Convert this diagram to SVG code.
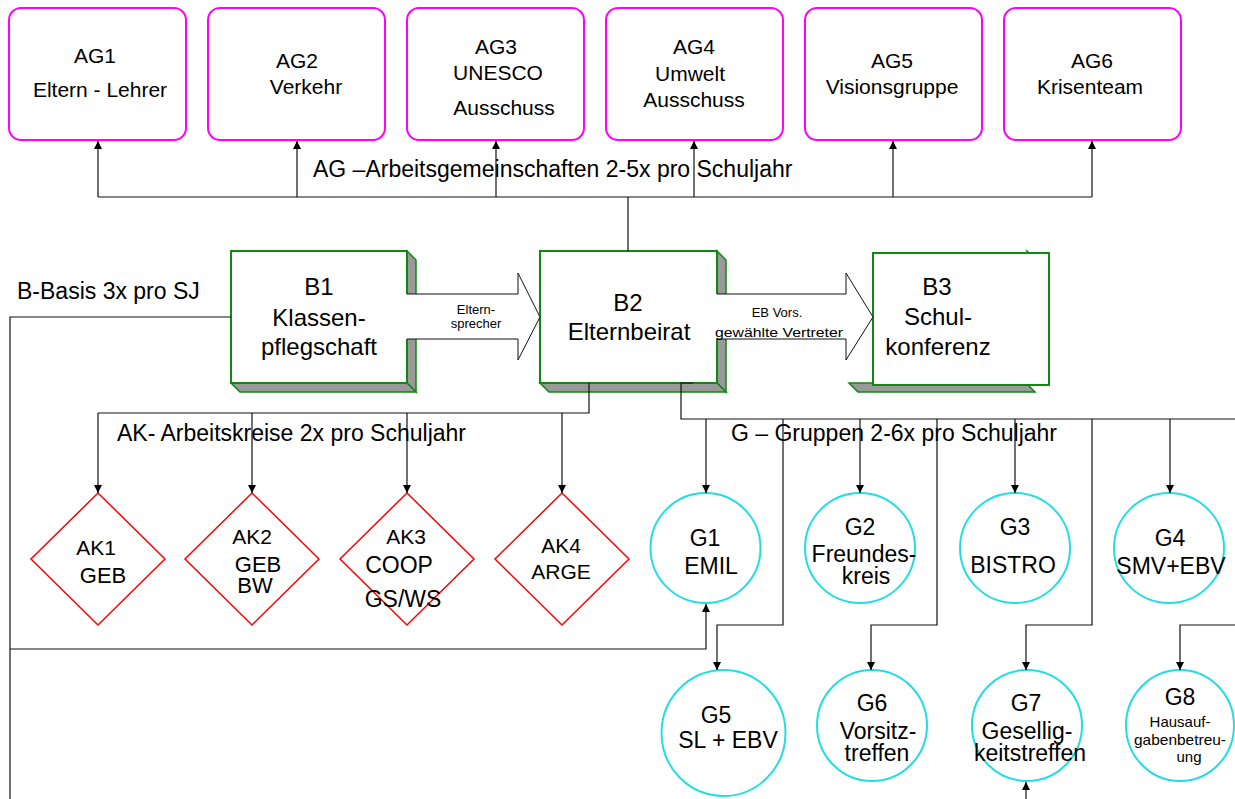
<svg xmlns="http://www.w3.org/2000/svg" width="1235" height="799" viewBox="0 0 1235 799">
<style>
text{font-family:"Liberation Sans",Arial,sans-serif;fill:#000;text-anchor:middle}
.ag{fill:#fff;stroke:#ff00ff;stroke-width:2}
.agt{font-size:21px}
.bf{fill:#fff;stroke:#118811;stroke-width:2}
.bs{fill:#999;stroke:#118811;stroke-width:1.5;stroke-linejoin:miter}
.bt{font-size:24px}
.ak{fill:#fff;stroke:#ff0000;stroke-width:1.5}
.g{fill:#fff;stroke:#22dde4;stroke-width:2}
.gt{font-size:23px}
.lbl{font-size:23px;text-anchor:start}
.c{fill:none;stroke:#111;stroke-width:1.2}
.ba{fill:#fff;stroke:none}
.bal{fill:none;stroke:#111;stroke-width:1}
.sm{font-size:13px}
</style>
<defs>
<marker id="ah" viewBox="0 0 8 8" refX="8" refY="4" markerWidth="8" markerHeight="8" markerUnits="userSpaceOnUse" orient="auto">
<path d="M0,0 L8,4 L0,8 z" fill="#000"/>
</marker>
</defs>
<rect width="1235" height="799" fill="#fff"/>

<g id="AG1"><rect class="ag" x="9" y="8" width="177" height="132" rx="12"/><text class="agt" x="95" y="63">AG1</text><text class="agt" x="100" y="97">Eltern - Lehrer</text></g>
<g id="AG2"><rect class="ag" x="208" y="8" width="177" height="132" rx="12"/><text class="agt" x="297" y="68">AG2</text><text class="agt" x="306" y="94">Verkehr</text></g>
<g id="AG3"><rect class="ag" x="407" y="8" width="177" height="132" rx="12"/><text class="agt" x="496" y="54">AG3</text><text class="agt" x="498" y="80">UNESCO</text><text class="agt" x="504" y="115">Ausschuss</text></g>
<g id="AG4"><rect class="ag" x="606" y="8" width="177" height="132" rx="12"/><text class="agt" x="694" y="54">AG4</text><text class="agt" x="690" y="81">Umwelt</text><text class="agt" x="694" y="107">Ausschuss</text></g>
<g id="AG5"><rect class="ag" x="805" y="8" width="177" height="132" rx="12"/><text class="agt" x="892" y="68">AG5</text><text class="agt" x="892" y="94">Visionsgruppe</text></g>
<g id="AG6"><rect class="ag" x="1004" y="8" width="177" height="132" rx="12"/><text class="agt" x="1092" y="68">AG6</text><text class="agt" x="1090" y="94">Krisenteam</text></g>

<g id="B1">
<polygon class="bs" points="407,251 416,260 416,392 407,383"/>
<polygon class="bs" points="231,383 407,383 416,392 240,392"/>
<rect class="bf" x="231" y="251" width="176" height="132"/>
<text class="bt" x="319" y="295">B1</text><text class="bt" x="319" y="326">Klassen-</text><text class="bt" x="319" y="355">pflegschaft</text>
</g>
<g id="B2">
<polygon class="bs" points="717,251 726,260 726,392 717,383"/>
<polygon class="bs" points="540,383 717,383 726,392 549,392"/>
<rect class="bf" x="540" y="251" width="177" height="132"/>
<text class="bt" x="628" y="311">B2</text><text class="bt" x="629" y="340">Elternbeirat</text>
</g>
<g id="B3">
<polygon class="bs" points="849,383 1026,383 1035,392 858,392"/>
<line x1="1026" y1="250" x2="1032" y2="256" stroke="#118811" stroke-width="1.5"/>
<rect class="bf" x="873" y="253" width="176" height="132"/>
<text class="bt" x="937" y="295">B3</text><text class="bt" x="938" y="325">Schul-</text><text class="bt" x="938" y="355">konferenz</text>
</g>

<g id="AK1"><polygon class="ak" points="98,493 165,559 98,625 31,559"/><text style="font-size:21px" x="96" y="555">AK1</text><text style="font-size:22px" x="103" y="583">GEB</text></g>
<g id="AK2"><polygon class="ak" points="252,493 319,559 252,625 185,559"/><text style="font-size:21px" x="252" y="544">AK2</text><text style="font-size:22px" x="258" y="572">GEB</text><text style="font-size:22px" x="255" y="593">BW</text></g>
<g id="AK3"><polygon class="ak" points="407,493 474,559 407,625 340,559"/><text style="font-size:21px" x="406" y="544">AK3</text><text style="font-size:23px" x="399" y="573">COOP</text><text style="font-size:23px" x="403" y="607">GS/WS</text></g>
<g id="AK4"><polygon class="ak" points="562,493 629,559 562,625 495,559"/><text style="font-size:21px" x="561" y="553">AK4</text><text style="font-size:21px" x="561" y="579">ARGE</text></g>

<g id="G1"><ellipse class="g" cx="705.5" cy="548" rx="55" ry="55"/><text class="gt" x="705" y="546">G1</text><text class="gt" x="711" y="574">EMIL</text></g>
<g id="G2"><ellipse class="g" cx="860" cy="548" rx="55" ry="55"/><text class="gt" x="860" y="535">G2</text><text class="gt" x="864" y="562">Freundes-</text><text class="gt" x="866" y="584">kreis</text></g>
<g id="G3"><ellipse class="g" cx="1015" cy="548" rx="55" ry="55"/><text class="gt" x="1015" y="535">G3</text><text class="gt" x="1013" y="573">BISTRO</text></g>
<g id="G4"><ellipse class="g" cx="1169" cy="548" rx="55" ry="55"/><text class="gt" x="1170" y="546">G4</text><text class="gt" x="1171" y="574">SMV+EBV</text></g>
<g id="G5"><ellipse class="g" cx="723.5" cy="733" rx="62" ry="63"/><text class="gt" x="716" y="723">G5</text><text class="gt" x="728" y="748">SL + EBV</text></g>
<g id="G6"><ellipse class="g" cx="872" cy="725.5" rx="55" ry="55.5"/><text class="gt" x="872" y="711">G6</text><text class="gt" x="878" y="739">Vorsitz-</text><text class="gt" x="877" y="761">treffen</text></g>
<g id="G7"><ellipse class="g" cx="1027" cy="725.5" rx="55" ry="55.5"/><text class="gt" x="1026" y="711">G7</text><text class="gt" x="1027" y="739">Gesellig-</text><text class="gt" x="1030" y="761">keitstreffen</text></g>
<g id="G8"><ellipse class="g" cx="1180" cy="725.5" rx="54" ry="55.5"/><text class="gt" x="1180" y="705">G8</text><text style="font-size:15px" x="1180" y="727">Hausauf-</text><text style="font-size:15px" x="1180" y="745" textLength="92" lengthAdjust="spacingAndGlyphs">gabenbetreu-</text><text style="font-size:15px" x="1189" y="762">ung</text></g>

<g id="labels">
<text class="lbl" x="313" y="177">AG –Arbeitsgemeinschaften 2-5x pro Schuljahr</text>
<text class="lbl" x="17" y="299">B-Basis 3x pro SJ</text>
<text class="lbl" x="117" y="441">AK- Arbeitskreise 2x pro Schuljahr</text>
<text class="lbl" x="731" y="441">G – Gruppen 2-6x pro Schuljahr</text>
</g>

<g id="connectors">
<path class="c" d="M98,197 H1092"/>
<path class="c" d="M98,197 V141" marker-end="url(#ah)"/>
<path class="c" d="M297,197 V141" marker-end="url(#ah)"/>
<path class="c" d="M496,197 V141" marker-end="url(#ah)"/>
<path class="c" d="M694,197 V141" marker-end="url(#ah)"/>
<path class="c" d="M893,197 V141" marker-end="url(#ah)"/>
<path class="c" d="M1092,197 V141" marker-end="url(#ah)"/>
<path class="c" d="M628,251 V197"/>
<path class="c" d="M589,383 V413 H98"/>
<path class="c" d="M98,413 V493" marker-end="url(#ah)"/>
<path class="c" d="M252,413 V493" marker-end="url(#ah)"/>
<path class="c" d="M407,413 V493" marker-end="url(#ah)"/>
<path class="c" d="M562,413 V493" marker-end="url(#ah)"/>
<path class="c" d="M231,317 H10 V799"/>
<path class="c" d="M10,649 H706 V604" marker-end="url(#ah)"/>
<path class="c" d="M693,383 H681 V419 H1240"/>
<path class="c" d="M706,419 V493" marker-end="url(#ah)"/>
<path class="c" d="M860,419 V493" marker-end="url(#ah)"/>
<path class="c" d="M1015,419 V493" marker-end="url(#ah)"/>
<path class="c" d="M1170,419 V493" marker-end="url(#ah)"/>
<path class="c" d="M783,419 V625 H717 V670" marker-end="url(#ah)"/>
<path class="c" d="M937,419 V625 H871 V670" marker-end="url(#ah)"/>
<path class="c" d="M1092,419 V625 H1026 V670" marker-end="url(#ah)"/>
<path class="c" d="M1240,625 H1180 V670" marker-end="url(#ah)"/>
<path class="c" d="M1026,799 V782" marker-end="url(#ah)"/>
<g id="arrow-B1-B2">
<polygon class="ba" points="406,294 518,294 518,273 540,317 518,360 518,339 406,339"/>
<polyline class="bal" points="407,294 518,294 518,273 540,317 518,360 518,339 407,339"/>
<text class="sm" x="476" y="314">Eltern-</text><text class="sm" x="476" y="328">sprecher</text>
</g>
<g id="arrow-B2-B3">
<polygon class="ba" points="716,294 846,294 846,273 873,317 846,360 846,339 716,339"/>
<polyline class="bal" points="717,294 846,294 846,273 873,317 846,360 846,339 717,339"/>
<text class="sm" x="777" y="317">EB Vors.</text><text class="sm" x="779" y="337" textLength="128" lengthAdjust="spacingAndGlyphs">gewählte Vertreter</text>
</g>
</g>
</svg>
